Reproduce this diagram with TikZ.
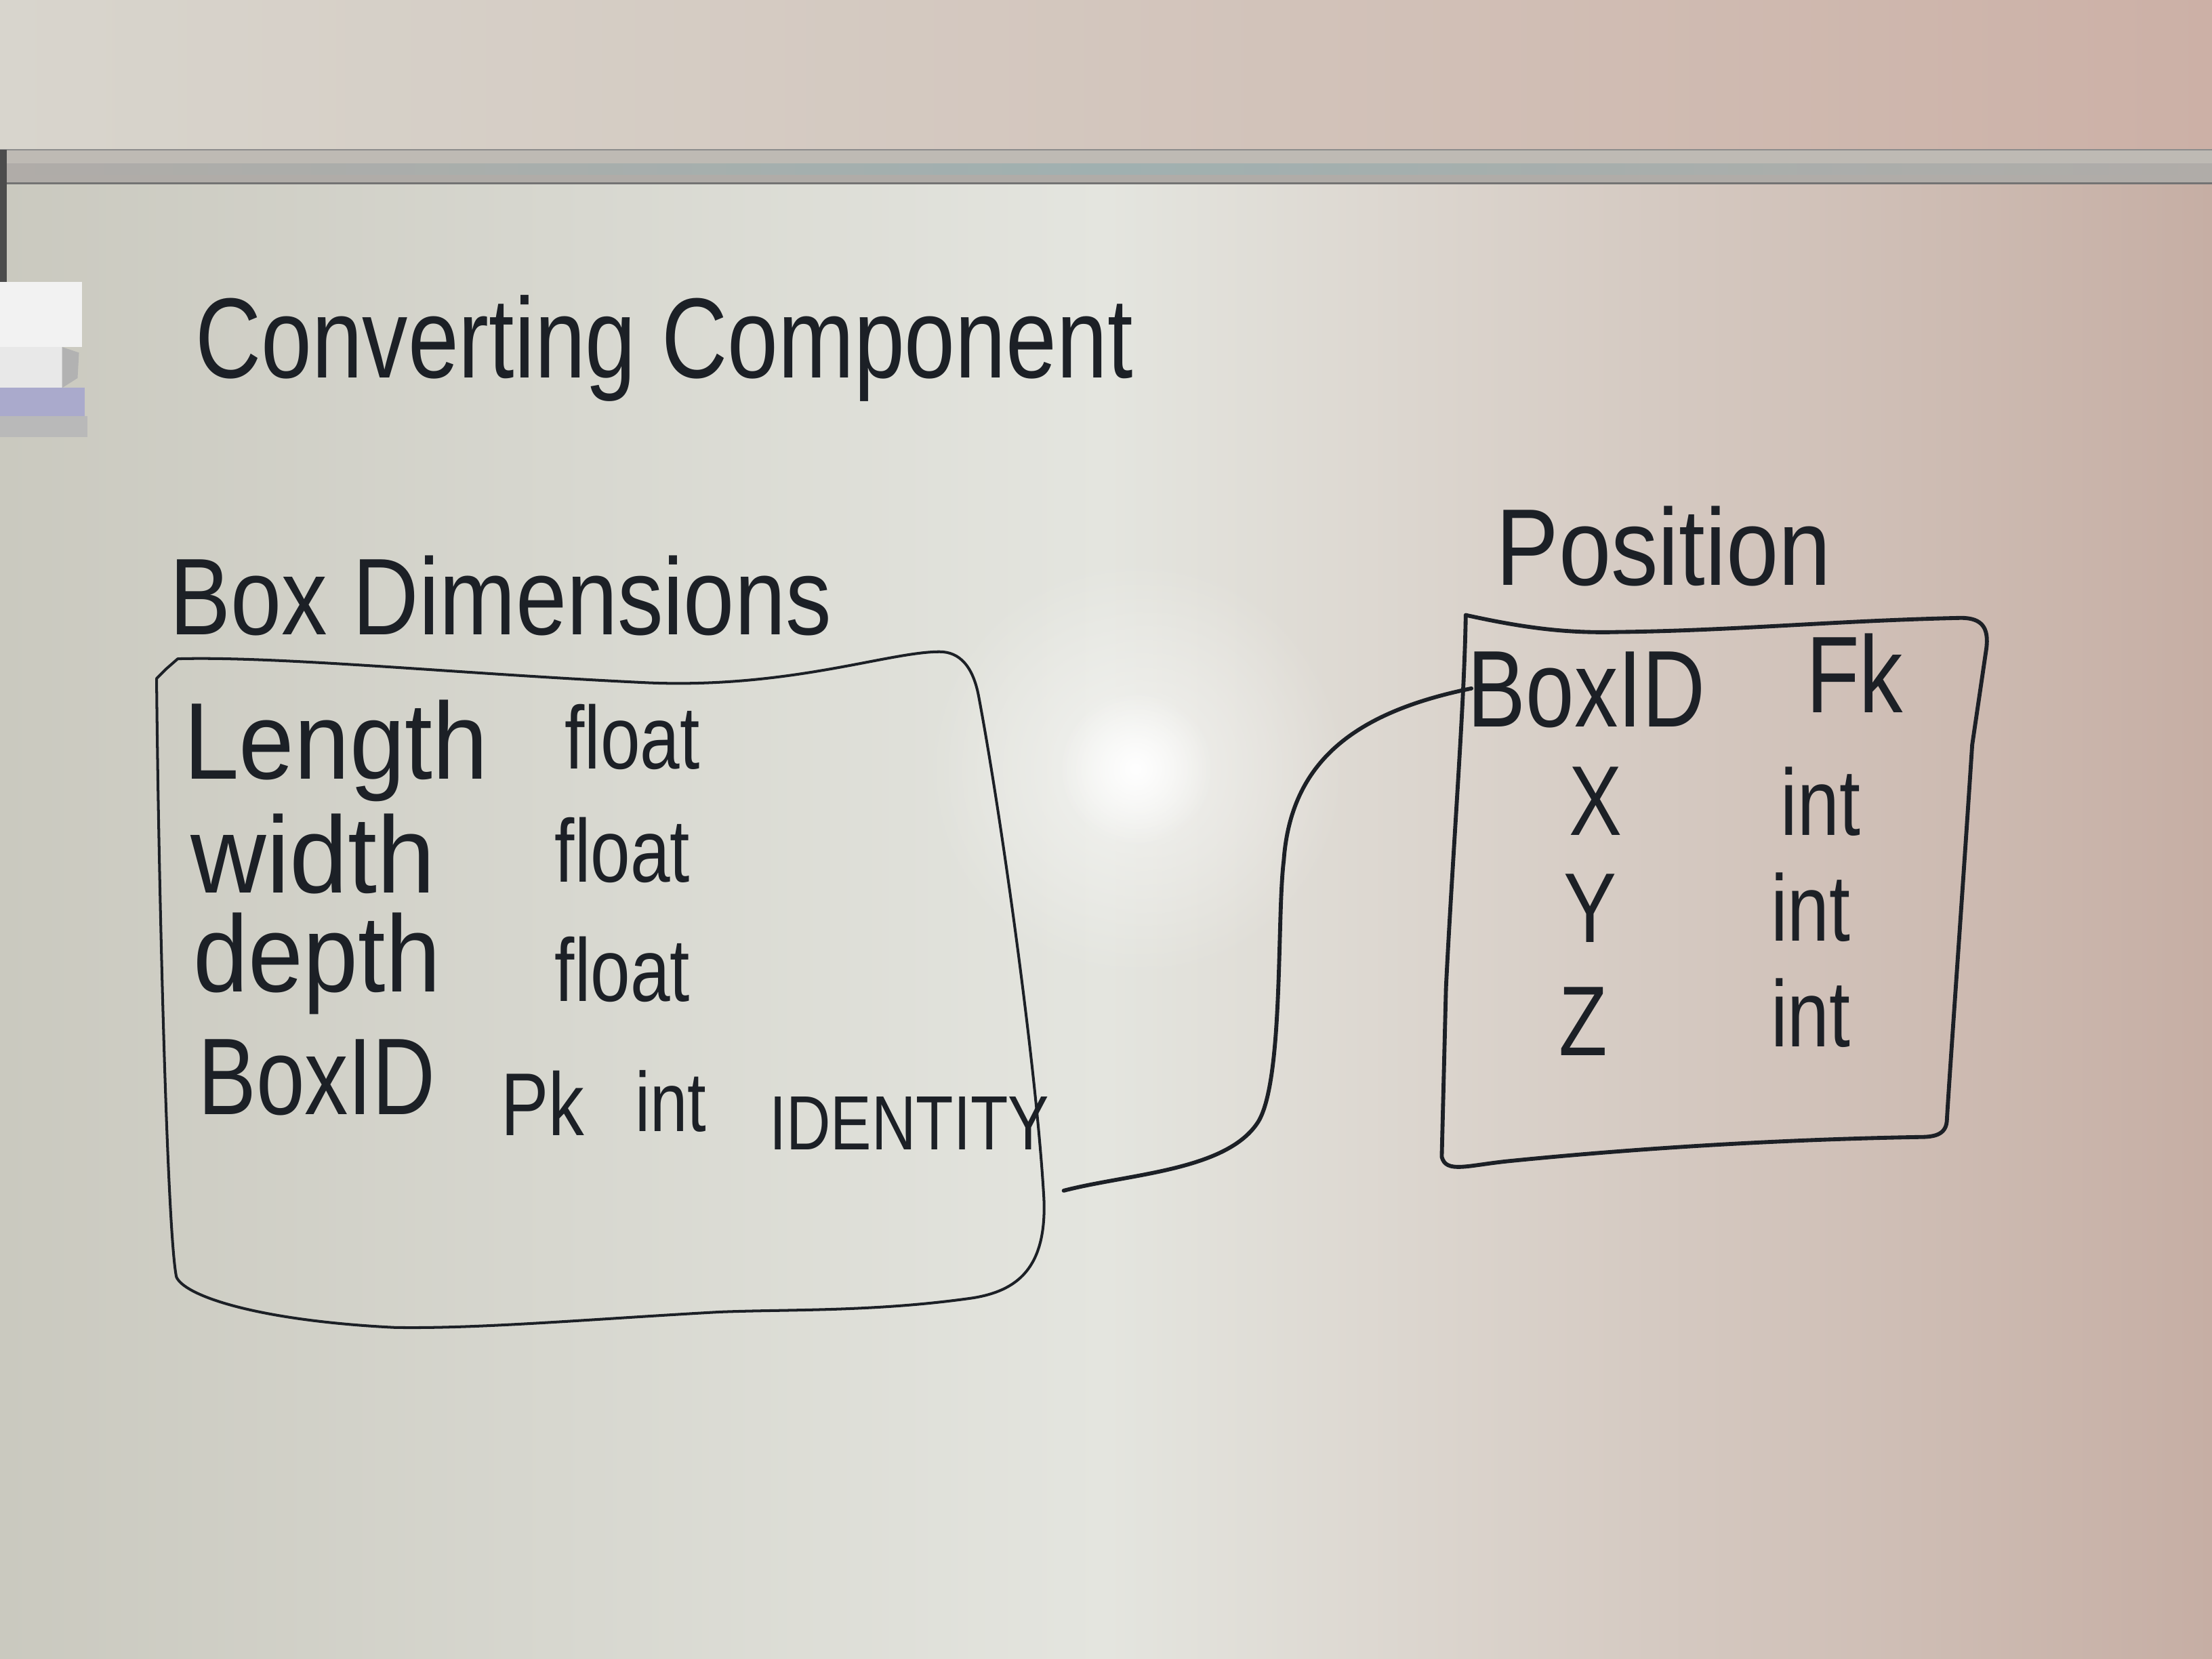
\documentclass[tikz,border=0pt]{standalone}
\usepackage{fontspec}
\newfontfamily\hand[FakeStretch=0.8]{Liberation Sans}
\usetikzlibrary{fadings}
\definecolor{ink}{RGB}{28,32,38}
\definecolor{wallL}{RGB}{216,213,205}
\definecolor{wallR}{RGB}{204,176,166}
\definecolor{boardL}{RGB}{202,201,191}
\definecolor{boardM}{RGB}{228,229,223}
\definecolor{boardR}{RGB}{198,174,164}
\definecolor{railA}{RGB}{190,186,180}
\definecolor{railB}{RGB}{160,176,176}
\definecolor{railC}{RGB}{176,172,168}
\tikzfading[name=glow, inner color=transparent!0, outer color=transparent!100]
\newcommand{\wider}[2]{\scalebox{#1}[1]{#2}}
\tikzset{
  fs/.style={font=\hand\fontsize{#1}{#1}\selectfont},
  txt/.style={text=ink, inner sep=0pt, anchor=base west},
  marker/.style={draw=ink, line width=1.6pt, line cap=round, line join=round},
}
\begin{document}
\begin{tikzpicture}[x=0.02cm, y=-0.02cm]
\useasboundingbox (0,0) rectangle (1568,1176);

% board surface, wall above, and the marker rail
\shade[left color=boardL, right color=boardR, middle color=boardM] (0,130) rectangle (1568,1176);
\shade[left color=wallL, right color=wallR, middle color=wallL!60!wallR] (0,0) rectangle (1568,106);
\fill[railA] (0,106) rectangle (1568,116);
\shade[left color=railC, right color=railC, middle color=railB] (0,116) rectangle (1568,124);
\fill[railC] (0,124) rectangle (1568,130);
\draw[black!55, line width=0.8pt] (0,130) -- (1568,130);
\draw[black!45, line width=0.6pt] (0,106) -- (1568,106);
\fill[black!70] (0,106) rectangle (5,240);

% eraser holder at the left edge
\fill[white!90!gray] (0,200) rectangle (58,246);
\fill[white!82!gray] (0,246) rectangle (44,275);
\fill[gray!60] (44,246) -- (56,250) -- (55,268) -- (44,275) -- cycle;
\fill[white!78!blue!60!gray] (0,275) rectangle (60,295);
\fill[gray!55] (0,295) rectangle (62,310);

% flash glare
\fill[white, opacity=0.55, path fading=glow] (805,545) circle (150);
\fill[white, path fading=glow] (805,545) circle (55);

% title and table names
\node[txt, fs=46] (title) at (138,268) {Converting Component};
\node[txt, fs=44] (bdname) at (120,450) {\wider{1.05}{Box Dimensions}};
\node[txt, fs=44] (posname) at (1060,415) {\wider{1.08}{Position}};

% Box Dimensions table
\draw[marker, line width=1.1pt] (111,481) -- (118,474) -- (126,467)
  .. controls (200,465) and (330,478) .. (460,484)
  .. controls (560,488) and (630,462) .. (666,462)
  .. controls (680,462) and (690,472) .. (694,495)
  .. controls (710,580) and (735,760) .. (740,850)
  .. controls (742,900) and (720,915) .. (690,920)
  .. controls (620,930) and (560,928) .. (510,930)
  .. controls (420,935) and (340,942) .. (280,941)
  .. controls (180,936) and (130,918) .. (125,905)
  .. controls (118,870) and (112,600) .. (111,481);
\node[txt, fs=44] (lenN) at (130,552) {\wider{1.14}{Length}};
\node[txt, fs=36] (lenT) at (400,545) {float};
\node[txt, fs=44] (widN) at (135,633) {\wider{1.2}{width}};
\node[txt, fs=36] (widT) at (393,625) {float};
\node[txt, fs=44] (depN) at (137,703) {\wider{1.13}{depth}};
\node[txt, fs=36] (depT) at (393,710) {float};
\node[txt, fs=44] (idN) at (140,790) {BoxID};
\node[txt, fs=36] (idK) at (355,805) {Pk};
\node[txt, fs=34] (idT) at (450,802) {int};
\node[txt, fs=31] (idI) at (545,815) {IDENTITY};

% Position table
\draw[marker] (1039,436)
  .. controls (1080,445) and (1110,449) .. (1147,448)
  .. controls (1230,447) and (1300,440) .. (1390,438)
  .. controls (1405,438) and (1410,445) .. (1408,460)
  -- (1398,528)
  .. controls (1390,650) and (1382,760) .. (1380,795)
  .. controls (1379,805) and (1370,806) .. (1360,806)
  .. controls (1250,808) and (1150,815) .. (1070,823)
  .. controls (1040,826) and (1025,832) .. (1022,820)
  -- (1025,700)
  .. controls (1030,600) and (1038,500) .. (1039,436);
\node[txt, fs=44] (fkN) at (1040,515) {BoxID};
\node[txt, fs=44] (fkT) at (1280,505) {Fk};
\node[txt, fs=40] (xN) at (1112,592) {X};
\node[txt, fs=38] (xT) at (1262,592) {int};
\node[txt, fs=40] (yN) at (1108,668) {Y};
\node[txt, fs=38] (yT) at (1255,667) {int};
\node[txt, fs=40] (zN) at (1105,748) {Z};
\node[txt, fs=38] (zT) at (1255,742) {int};

% relationship line between the two tables
\coordinate (bdOut) at (754,844);
\coordinate (posIn) at (1043,488);
\draw[marker] (bdOut)
  .. controls (800,832) and (870,830) .. (892,795)
  .. controls (910,765) and (905,650) .. (910,610)
  .. controls (915,540) and (960,505) .. (posIn);
\end{tikzpicture}
\end{document}
